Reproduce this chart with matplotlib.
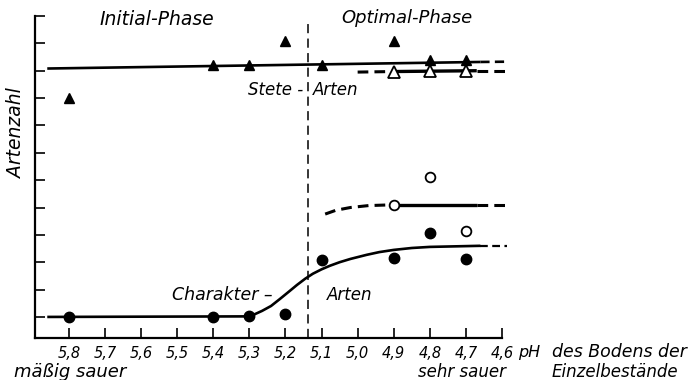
import matplotlib
matplotlib.use("Agg")
import matplotlib.pyplot as plt
import numpy as np

# ---- data ----
ph_ticks = [5.8, 5.7, 5.6, 5.5, 5.4, 5.3, 5.2, 5.1, 5.0, 4.9, 4.8, 4.7, 4.6]
ph_labels = ["5,8", "5,7", "5,6", "5,5", "5,4", "5,3", "5,2", "5,1", "5,0", "4,9", "4,8", "4,7", "4,6"]
y_ticks = [1, 2, 3, 4, 5, 6, 7, 8, 9, 10, 11, 12]

# Stete-Arten (filled triangles)
stete_ph = [5.8, 5.4, 5.3, 5.2, 5.1, 4.9, 4.8, 4.7]
stete_n = [9.0, 10.2, 10.2, 11.1, 10.2, 11.1, 10.4, 10.4]
# Stete-Arten (open triangles)
stete_open_ph = [4.9, 4.8, 4.7]
stete_open_n = [9.95, 10.0, 10.0]
# Charakter-Arten (filled circles)
char_ph = [5.8, 5.4, 5.3, 5.2, 5.1, 4.9, 4.8, 4.7]
char_n = [1.0, 1.0, 1.05, 1.1, 3.08, 3.15, 4.07, 3.1]
# Charakter-Arten (open circles)
char_open_ph = [4.9, 4.8, 4.7]
char_open_n = [5.1, 6.1, 4.15]

# trend lines
stete_line_ph = [5.86, 4.66]
stete_line_n = [10.08, 10.32]
stete_line_ext_ph = [4.66, 4.585]
stete_line_ext_n = [10.32, 10.33]

open_tri_dash_ph = [5.0, 4.90]
open_tri_dash_n = [9.95, 9.97]
open_tri_solid_ph = [4.90, 4.67]
open_tri_solid_n = [9.97, 10.0]
open_tri_ext_ph = [4.67, 4.585]
open_tri_ext_n = [10.0, 10.0]

sig_ph = [5.86, 5.31, 5.29, 5.265, 5.24, 5.216, 5.19, 5.168, 5.145, 5.124, 5.10,
          5.077, 5.05, 5.02, 4.975, 4.94, 4.90, 4.85, 4.80, 4.66]
sig_n = [1.0, 1.02, 1.07, 1.22, 1.4, 1.65, 1.93, 2.17, 2.4, 2.58, 2.74,
         2.87, 3.0, 3.12, 3.27, 3.37, 3.45, 3.52, 3.56, 3.6]
sig_ext_ph = [4.66, 4.585]
sig_ext_n = [3.6, 3.6]

upper_dash_ph = [5.09, 5.06, 5.02, 4.97, 4.90]
upper_dash_n = [4.76, 4.9, 5.0, 5.07, 5.1]
upper_solid_ph = [4.90, 4.67]
upper_solid_n = [5.1, 5.1]
upper_ext_ph = [4.67, 4.585]
upper_ext_n = [5.1, 5.1]

boundary_ph = 5.138

# ---- figure ----
W, H = 692, 380
fig = plt.figure(figsize=(W / 100, H / 100), dpi=100)
plt.rcParams['font.family'] = ['DejaVu Sans']
FONT = dict(family='DejaVu Sans', style='italic')

left_px, right_px, top_px, bot_px = 35, 502, 16, 338
ax = fig.add_axes([left_px / W, 1 - bot_px / H, (right_px - left_px) / W, (bot_px - top_px) / H])
ax.set_xlim(5.894, 4.6)
ax.set_ylim(0.23, 12)

for s in ["top", "right"]:
    ax.spines[s].set_visible(False)
for s in ["left", "bottom"]:
    ax.spines[s].set_linewidth(1.6)

ax.set_xticks(ph_ticks)
ax.set_xticklabels(ph_labels, fontsize=10.5, **FONT)
ax.set_yticks(y_ticks)
ax.set_yticklabels([])
ax.tick_params(axis='x', direction='in', length=7, width=1.2, pad=6)
ax.tick_params(axis='y', direction='in', length=7, width=1.2)

k = 'black'
lw = 1.9
# Stete lines
ax.plot(stete_line_ph, stete_line_n, color=k, lw=lw, solid_capstyle='butt')
ax.plot(stete_line_ext_ph, stete_line_ext_n, color=k, lw=lw, dashes=(3.5, 2), clip_on=False)
ax.plot(open_tri_dash_ph, open_tri_dash_n, color=k, lw=2.2, dashes=(3.5, 2))
ax.plot(open_tri_solid_ph, open_tri_solid_n, color=k, lw=2.4, solid_capstyle='butt')
ax.plot(open_tri_ext_ph, open_tri_ext_n, color=k, lw=2.2, dashes=(3.5, 2), clip_on=False)
# Charakter lines
ax.plot(sig_ph, sig_n, color=k, lw=lw, solid_capstyle='butt', solid_joinstyle='round')
ax.plot(sig_ext_ph, sig_ext_n, color=k, lw=1.6, dashes=(3.5, 2), clip_on=False)
ax.plot(upper_dash_ph, upper_dash_n, color=k, lw=2.2, dashes=(3.5, 2))
ax.plot(upper_solid_ph, upper_solid_n, color=k, lw=2.4, solid_capstyle='butt')
ax.plot(upper_ext_ph, upper_ext_n, color=k, lw=2.2, dashes=(3.5, 2), clip_on=False)

# boundary
ax.plot([boundary_ph, boundary_ph], [0.23, 11.74], color=k, lw=1.1, dashes=(6, 3.5), clip_on=False)

# markers
ax.plot(stete_ph, stete_n, ls='none', marker='^', ms=7.5, color=k, zorder=5)
ax.plot(stete_open_ph, stete_open_n, ls='none', marker='^', ms=8, mfc='white', mec=k, mew=1.3, zorder=5)
ax.plot(char_ph, char_n, ls='none', marker='o', ms=7.5, color=k, zorder=5)
ax.plot(char_open_ph, char_open_n, ls='none', marker='o', ms=7, mfc='white', mec=k, mew=1.3, zorder=5)

# labels inside plot
ax.text(5.714, 11.89, "Initial-Phase", fontsize=13.5, ha='left', va='center', **FONT)
ax.text(5.044, 11.93, "Optimal-Phase", fontsize=13, ha='left', va='center', **FONT)
ax.text(5.304, 9.30, "Stete -", fontsize=12, ha='left', va='center', **FONT)
ax.text(5.124, 9.30, "Arten", fontsize=12, ha='left', va='center', **FONT)
ax.text(5.515, 1.80, "Charakter \u2013", fontsize=12.5, ha='left', va='center', **FONT)
ax.text(5.085, 1.80, "Arten", fontsize=12, ha='left', va='center', **FONT)

def ftext(x, y, s, **kw):
    fig.text(x / W, 1 - y / H, s, **kw)

ftext(17, 133, "Artenzahl", fontsize=13.5, rotation=90, ha='center', va='center', **FONT)
ftext(518, 352, "pH", fontsize=11.5, ha='left', va='center', **FONT)
ftext(552, 352, "des Bodens der", fontsize=12.5, ha='left', va='center', **FONT)
ftext(552, 372, "Einzelbestände", fontsize=12, ha='left', va='center', **FONT)
ftext(418, 372, "sehr sauer", fontsize=12, ha='left', va='center', **FONT)
ftext(14, 372, "mäßig sauer", fontsize=13, ha='left', va='center', **FONT)

fig.savefig("out.png", dpi=100)
